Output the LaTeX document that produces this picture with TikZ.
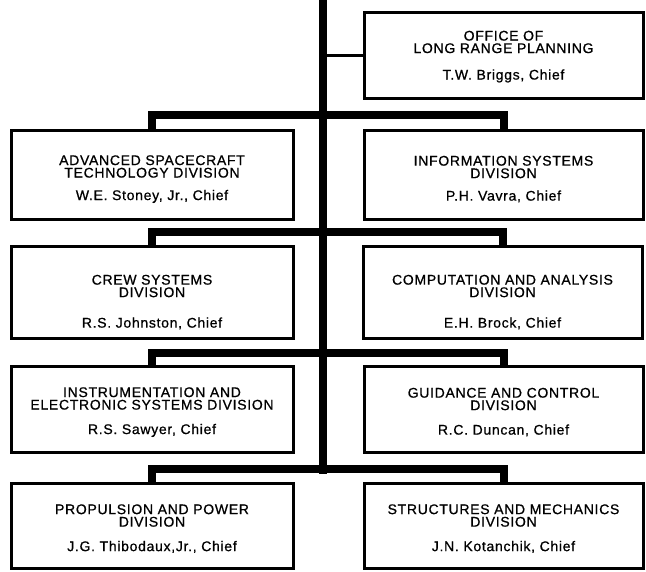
\documentclass[tikz,border=0pt]{standalone}
\usepackage{fontspec}
\newfontfamily\orgfont[LetterSpace=5,FakeBold=0.8]{Liberation Sans}
\newcommand\sinkto[1]{\rule{0pt}{#1}}
\tikzset{
  unit/.style={draw, line width=3pt, rectangle, align=center,
    minimum height=88pt, inner sep=0pt,
    font=\orgfont\fontsize{14}{12.5}\selectfont},
  leftunit/.style={unit, minimum width=282pt},
  rightunit/.style={unit, minimum width=279pt},
  bus/.style={line width=8pt, line join=miter},
  link/.style={line width=3pt}
}
\begin{document}
\begin{tikzpicture}[x=1pt, y=-1pt]
  \useasboundingbox (0,0) rectangle (646,571);

  \coordinate (top) at (323,0);
  \coordinate (foot) at (323,474);
  \draw [bus] (top) -- (foot);

  \node [rightunit, minimum height=86pt] (office) at (503.5,55)
    {\sinkto{13pt}OFFICE OF\\LONG RANGE PLANNING\\[14pt]T.W. Briggs, Chief};
  \draw [link] (office.west) -- (office.west -| top);

  \node [leftunit, minimum height=89pt] (adv) at (152,174.5)
    {\sinkto{19pt}ADVANCED SPACECRAFT\\TECHNOLOGY DIVISION\\[10pt]W.E. Stoney, Jr., Chief};
  \node [rightunit, minimum height=89pt] (info) at (503.5,174.5)
    {\sinkto{19pt}INFORMATION SYSTEMS\\DIVISION\\[10pt]P.H. Vavra, Chief};
  \draw [bus] (adv.north) -- ++(0,-14) -| (info.north);

  \node [leftunit, minimum height=92pt] (crew) at (152,292)
    {\sinkto{30pt}CREW SYSTEMS\\DIVISION\\[18pt]R.S. Johnston, Chief};
  \node [rightunit, minimum height=92pt] (comp) at (502.5,292)
    {\sinkto{30pt}COMPUTATION AND ANALYSIS\\DIVISION\\[18pt]E.H. Brock, Chief};
  \draw [bus] (crew.north) -- ++(0,-13) -| (comp.north);

  \node [leftunit, minimum height=86pt] (instr) at (152,409)
    {\sinkto{16pt}INSTRUMENTATION AND\\ELECTRONIC SYSTEMS DIVISION\\[12pt]R.S. Sawyer, Chief};
  \node [rightunit, minimum height=86pt] (guid) at (503.5,409)
    {\sinkto{16pt}GUIDANCE AND CONTROL\\DIVISION\\[12pt]R.C. Duncan, Chief};
  \draw [bus] (instr.north) -- ++(0,-12) -| (guid.north);

  \node [leftunit, minimum height=85pt] (prop) at (152,525.5)
    {\sinkto{16pt}PROPULSION AND POWER\\DIVISION\\[12pt]J.G. Thibodaux,Jr., Chief};
  \node [rightunit, minimum height=85pt] (struct) at (503.5,525.5)
    {\sinkto{16pt}STRUCTURES AND MECHANICS\\DIVISION\\[12pt]J.N. Kotanchik, Chief};
  \draw [bus] (prop.north) -- ++(0,-13) -| (struct.north);
\end{tikzpicture}
\end{document}
